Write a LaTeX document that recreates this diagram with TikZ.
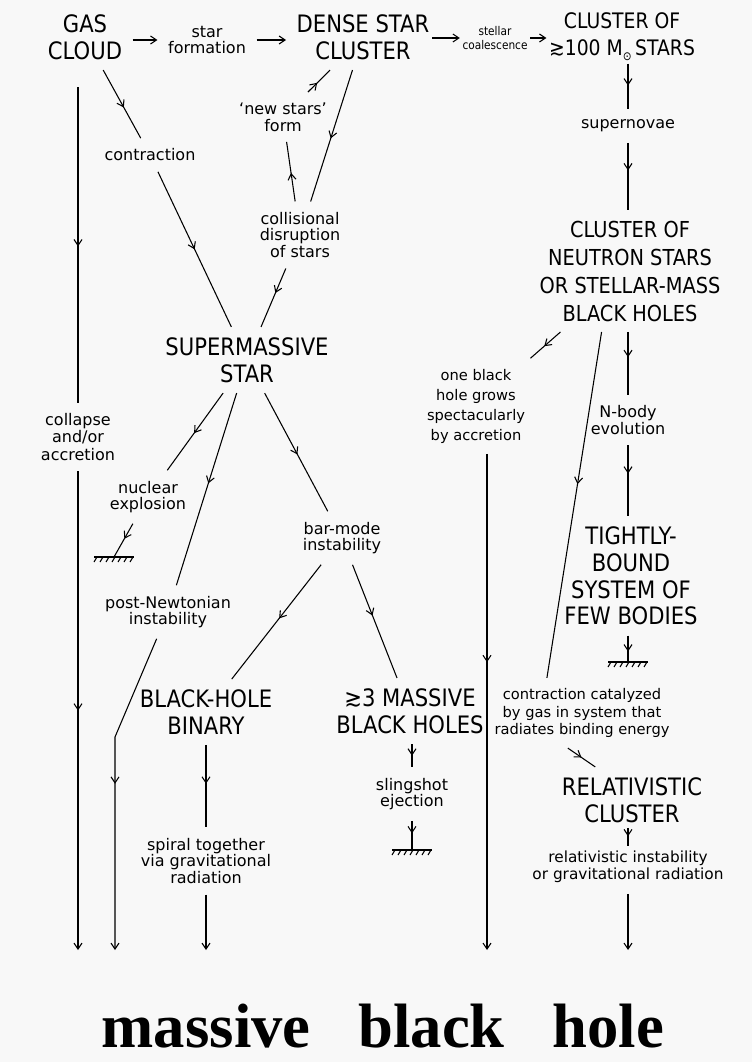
\documentclass[tikz,border=0pt]{standalone}
\usepackage{fontspec}
\usetikzlibrary{arrows.meta,decorations.markings}
\newfontfamily\capsfont[FakeStretch=0.88]{DejaVu Sans}
\newfontfamily\handfont{DejaVu Sans}
\newfontfamily\titlefont{Liberation Serif}
\definecolor{paper}{RGB}{248,248,248}
\tikzset{
  big/.style={font=\capsfont\fontsize{18}{#1}\selectfont,align=center,inner sep=2pt,outer sep=6pt},
  big/.default=20,
  lbl/.style={font=\handfont\fontsize{12}{12.5}\selectfont,align=center,inner sep=2pt,outer sep=6pt},
  flow/.style={postaction={decorate},decoration={markings,mark=at position #1 with {\arrow{Straight Barb[length=4.5pt,width=6pt]}}}},
  flow/.default=0.5,
  tip/.style={-{Straight Barb[length=4.5pt,width=6pt]}},
  ground/.pic={
    \draw (-20,0) -- (20,0);
    \foreach \i in {-17,-11,...,19} \draw (\i,0) -- ++(-3,5);
  }
}
\begin{document}
\begin{tikzpicture}[x=0.75pt,y=-0.75pt,line width=0.8pt]
  \fill[paper] (0,0) rectangle (752,1062);
  \useasboundingbox (0,0) rectangle (752,1062);
  \node[big] (gas) at (85,37) {GAS\\CLOUD};
  \node[lbl] (form) at (207,40) {star\\formation};
  \node[big] (dense) at (363,37) {DENSE STAR\\CLUSTER};
  \node[lbl,font=\capsfont\fontsize{9}{10.5}\selectfont,outer sep=0pt] (coal) at (495,38) {stellar\\coalescence};
  \node[big,font=\capsfont\fontsize{16}{20}\selectfont,outer sep=0pt] (hundred) at (622,37) {CLUSTER OF\\≳100 M\raisebox{-4pt}{\fontsize{9}{9}\selectfont ⊙}\,STARS};
  \node[lbl] (sn) at (628,126) {supernovae};
  \node[big,font=\capsfont\fontsize{16.5}{21}\selectfont] (ns) at (630,271) {CLUSTER OF\\NEUTRON STARS\\OR STELLAR-MASS\\BLACK HOLES};
  \node[lbl] (newst) at (283,117) {‘new stars’\\form};
  \node[lbl] (coll) at (300,235) {collisional\\disruption\\of stars};
  \node[lbl] (contr) at (150,155) {contraction};
  \node[big] (super) at (247,360) {SUPERMASSIVE\\STAR};
  \node[lbl,font=\handfont\fontsize{12}{13}\selectfont] (collapse) at (78,437) {collapse\\and/or\\accretion};
  \node[lbl] (nuclear) at (148,497) {nuclear\\explosion};
  \node[lbl] (postn) at (168,612) {post-Newtonian\\instability};
  \node[lbl] (barm) at (342,538) {bar-mode\\instability};
  \node[big] (binary) at (206,712) {BLACK-HOLE\\BINARY};
  \node[big] (three) at (410,711) {≳3 MASSIVE\\BLACK HOLES};
  \node[lbl] (spiral) at (206,861) {spiral together\\via gravitational\\radiation};
  \node[lbl] (sling) at (412,794) {slingshot\\ejection};
  \node[lbl,font=\handfont\fontsize{11}{15}\selectfont] (onebh) at (476,406) {one black\\hole grows\\spectacularly\\by accretion};
  \node[lbl] (nbody) at (628,420) {N-body\\evolution};
  \node[big] (tight) at (631,576) {TIGHTLY-\\BOUND\\SYSTEM OF\\FEW BODIES};
  \node[lbl,font=\handfont\fontsize{11}{13}\selectfont] (catal) at (582,713) {contraction catalyzed\\by gas in system that\\radiates binding energy};
  \node[big] (rel) at (632,800) {RELATIVISTIC\\CLUSTER};
  \node[lbl,font=\handfont\fontsize{11.5}{13}\selectfont] (relinst) at (628,867) {relativistic instability\\or gravitational radiation};
  \node[font=\titlefont\bfseries\fontsize{47}{50}\selectfont,anchor=base,inner sep=0pt] (bh) at (383,1047) {massive\hspace{36pt}black\hspace{36pt}hole};
  \coordinate (g1) at (114,557);
  \coordinate (g2) at (412,850);
  \coordinate (g3) at (628,662);
  \coordinate (kink) at (115,737);
  \foreach \n/\x in {1/78,2/115,3/206,4/487,5/628} \coordinate (e\n) at (\x,950);
  \draw[tip] (gas.east |- form) -- (form.west);
  \draw[tip] (form.east) -- (dense.west |- form);
  \draw[tip,shorten <=-6pt] (dense.east |- coal) -- (coal.west);
  \draw[tip] (coal.east) -- (hundred.west |- coal);
  \draw[flow=0.53,shorten <=13pt] (gas.south -| collapse) -- (collapse);
  \draw[tip,flow=0.5] (collapse) -- (e1);
  \draw[flow=0.55] (gas) -- (contr);
  \draw[flow=0.5] (contr) -- (super);
  \draw[flow=0.52] (dense) -- (coll);
  \draw[flow=0.48] (coll) -- (newst);
  \draw[flow=0.42] (newst) -- (dense);
  \draw[flow=0.42] (coll) -- (super);
  \draw[flow=0.52] (super) -- (nuclear);
  \draw[flow=0.47] (super) -- (postn);
  \draw[flow=0.52] (super) -- (barm);
  \draw[flow=0.47] (barm) -- (binary);
  \draw[flow=0.45] (barm) -- (three);
  \draw[flow=0.45] (nuclear) -- (g1);
  \draw[tip,flow=0.48] (postn) -- (kink) -- (e2);
  \draw[flow=0.47] (binary) -- (spiral);
  \draw[tip] (spiral) -- (e3);
  \draw[flow=0.5] (three.south -| sling) -- (sling);
  \draw[flow=0.43] (sling) -- (g2);
  \draw[flow=0.48] (hundred.south -| sn) -- (sn);
  \draw[flow=0.41] (sn) -- (ns.north -| sn);
  \draw[flow=0.54] (ns) -- (onebh);
  \draw[tip,flow=0.42] (onebh.south -| e4) -- (e4);
  \draw[flow=0.44] (ns.245) -- (catal.135);
  \draw[flow=0.4] (ns.south -| nbody) -- (nbody);
  \draw[flow=0.4] (nbody) -- (tight.north -| nbody);
  \draw[flow=0.6] (tight.south -| g3) -- (g3);
  \draw[flow=0.5] (catal.248) -- (rel.138);
  \draw[flow=0.45,shorten <=-4pt,shorten >=-4pt] (rel.south -| relinst) -- (relinst);
  \draw[tip] (relinst) -- (e5);
  \pic at (g1) {ground};
  \pic at (g2) {ground};
  \pic at (g3) {ground};
\end{tikzpicture}
\end{document}
